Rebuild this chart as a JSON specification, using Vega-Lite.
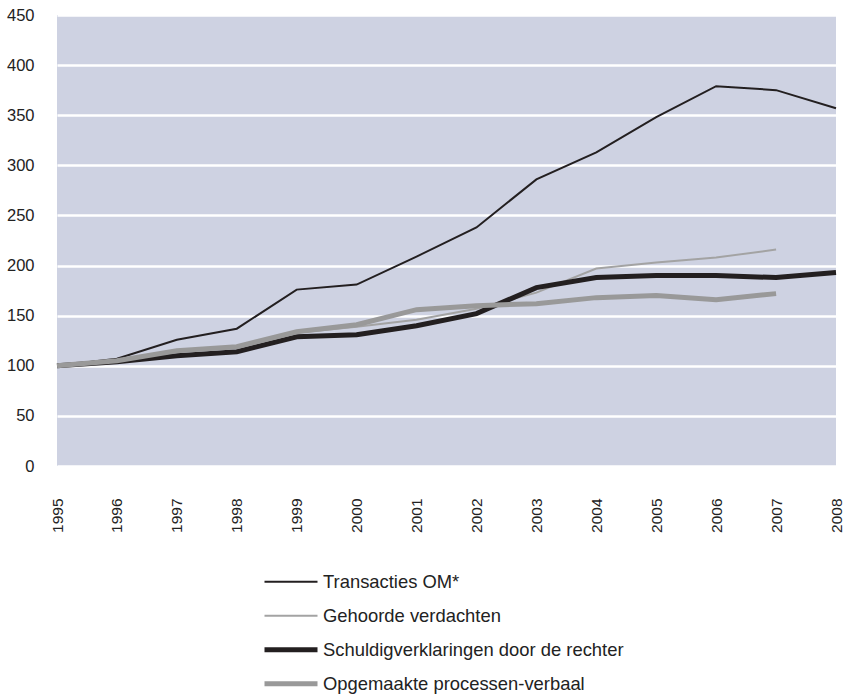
{
  "$schema": "https://vega.github.io/schema/vega-lite/v6.json",
  "autosize": "none",
  "width": 779,
  "height": 451,
  "padding": {"left": 57, "top": 15, "right": 11, "bottom": 228},
  "background": "white",
  "config": {
    "view": {"fill": "#CED2E2", "stroke": null},
    "font": "Liberation Sans",
    "legend": {
      "title": null,
      "orient": "none",
      "legendX": 205,
      "legendY": 550,
      "direction": "vertical",
      "symbolType": "stroke",
      "symbolSize": 2809,
      "clipHeight": 33.5,
      "labelFont": "Liberation Sans",
      "labelFontSize": 18.4,
      "labelColor": "#222222",
      "labelOffset": 3,
      "rowPadding": 0,
      "labelLimit": 400
    }
  },
  "datasets": {
    "d": [
      {"year": 1995, "series": "Transacties OM*", "value": 100},
      {"year": 1996, "series": "Transacties OM*", "value": 107},
      {"year": 1997, "series": "Transacties OM*", "value": 126},
      {"year": 1998, "series": "Transacties OM*", "value": 137},
      {"year": 1999, "series": "Transacties OM*", "value": 176},
      {"year": 2000, "series": "Transacties OM*", "value": 181},
      {"year": 2001, "series": "Transacties OM*", "value": 209},
      {"year": 2002, "series": "Transacties OM*", "value": 238},
      {"year": 2003, "series": "Transacties OM*", "value": 286},
      {"year": 2004, "series": "Transacties OM*", "value": 313},
      {"year": 2005, "series": "Transacties OM*", "value": 348},
      {"year": 2006, "series": "Transacties OM*", "value": 379},
      {"year": 2007, "series": "Transacties OM*", "value": 375},
      {"year": 2008, "series": "Transacties OM*", "value": 357},
      {"year": 1995, "series": "Gehoorde verdachten", "value": 100},
      {"year": 1996, "series": "Gehoorde verdachten", "value": 105},
      {"year": 1997, "series": "Gehoorde verdachten", "value": 114},
      {"year": 1998, "series": "Gehoorde verdachten", "value": 118},
      {"year": 1999, "series": "Gehoorde verdachten", "value": 133},
      {"year": 2000, "series": "Gehoorde verdachten", "value": 139},
      {"year": 2001, "series": "Gehoorde verdachten", "value": 146},
      {"year": 2002, "series": "Gehoorde verdachten", "value": 157},
      {"year": 2003, "series": "Gehoorde verdachten", "value": 173},
      {"year": 2004, "series": "Gehoorde verdachten", "value": 197},
      {"year": 2005, "series": "Gehoorde verdachten", "value": 203},
      {"year": 2006, "series": "Gehoorde verdachten", "value": 208},
      {"year": 2007, "series": "Gehoorde verdachten", "value": 216},
      {"year": 1995, "series": "Schuldigverklaringen door de rechter", "value": 100},
      {"year": 1996, "series": "Schuldigverklaringen door de rechter", "value": 104},
      {"year": 1997, "series": "Schuldigverklaringen door de rechter", "value": 110},
      {"year": 1998, "series": "Schuldigverklaringen door de rechter", "value": 114},
      {"year": 1999, "series": "Schuldigverklaringen door de rechter", "value": 129},
      {"year": 2000, "series": "Schuldigverklaringen door de rechter", "value": 131},
      {"year": 2001, "series": "Schuldigverklaringen door de rechter", "value": 140},
      {"year": 2002, "series": "Schuldigverklaringen door de rechter", "value": 152},
      {"year": 2003, "series": "Schuldigverklaringen door de rechter", "value": 178},
      {"year": 2004, "series": "Schuldigverklaringen door de rechter", "value": 188},
      {"year": 2005, "series": "Schuldigverklaringen door de rechter", "value": 190},
      {"year": 2006, "series": "Schuldigverklaringen door de rechter", "value": 190},
      {"year": 2007, "series": "Schuldigverklaringen door de rechter", "value": 188},
      {"year": 2008, "series": "Schuldigverklaringen door de rechter", "value": 193},
      {"year": 1995, "series": "Opgemaakte processen-verbaal", "value": 100},
      {"year": 1996, "series": "Opgemaakte processen-verbaal", "value": 105},
      {"year": 1997, "series": "Opgemaakte processen-verbaal", "value": 115},
      {"year": 1998, "series": "Opgemaakte processen-verbaal", "value": 119},
      {"year": 1999, "series": "Opgemaakte processen-verbaal", "value": 134},
      {"year": 2000, "series": "Opgemaakte processen-verbaal", "value": 141},
      {"year": 2001, "series": "Opgemaakte processen-verbaal", "value": 156},
      {"year": 2002, "series": "Opgemaakte processen-verbaal", "value": 160},
      {"year": 2003, "series": "Opgemaakte processen-verbaal", "value": 162},
      {"year": 2004, "series": "Opgemaakte processen-verbaal", "value": 168},
      {"year": 2005, "series": "Opgemaakte processen-verbaal", "value": 170},
      {"year": 2006, "series": "Opgemaakte processen-verbaal", "value": 166},
      {"year": 2007, "series": "Opgemaakte processen-verbaal", "value": 172}
    ]
  },
  "data": {"name": "d"},
  "mark": {"type": "line", "strokeCap": "butt", "strokeJoin": "miter"},
  "encoding": {
    "x": {
      "field": "year",
      "type": "ordinal",
      "scale": {"type": "point", "padding": 0},
      "axis": {
        "title": null,
        "domain": false,
        "ticks": true,
        "tickColor": "white",
        "tickSize": 3,
        "labelAngle": 270,
        "labelAlign": "right",
        "labelBaseline": "middle",
        "labelPadding": 29,
        "labelFontSize": 15.5,
        "labelColor": "#222222",
        "grid": false
      }
    },
    "y": {
      "field": "value",
      "type": "quantitative",
      "scale": {"domain": [0, 450], "nice": false},
      "axis": {
        "title": null,
        "domain": false,
        "ticks": false,
        "values": [0, 50, 100, 150, 200, 250, 300, 350, 400, 450],
        "labelPadding": 23,
        "labelFontSize": 16.5,
        "labelColor": "#222222",
        "grid": true,
        "gridColor": "white",
        "gridWidth": 2.5,
        "gridOpacity": 1
      }
    },
    "color": {
      "field": "series",
      "type": "nominal",
      "sort": ["Transacties OM*", "Gehoorde verdachten", "Schuldigverklaringen door de rechter", "Opgemaakte processen-verbaal"],
      "scale": {
        "domain": ["Transacties OM*", "Gehoorde verdachten", "Schuldigverklaringen door de rechter", "Opgemaakte processen-verbaal"],
        "range": ["#231F20", "#A3A3A3", "#231F20", "#999999"]
      }
    },
    "strokeWidth": {
      "field": "series",
      "type": "ordinal",
      "sort": ["Transacties OM*", "Gehoorde verdachten", "Schuldigverklaringen door de rechter", "Opgemaakte processen-verbaal"],
      "scale": {
        "type": "ordinal",
        "domain": ["Transacties OM*", "Gehoorde verdachten", "Schuldigverklaringen door de rechter", "Opgemaakte processen-verbaal"],
        "range": [2, 2, 5, 5]
      }
    },
    "order": {"field": "year"}
  }
}
